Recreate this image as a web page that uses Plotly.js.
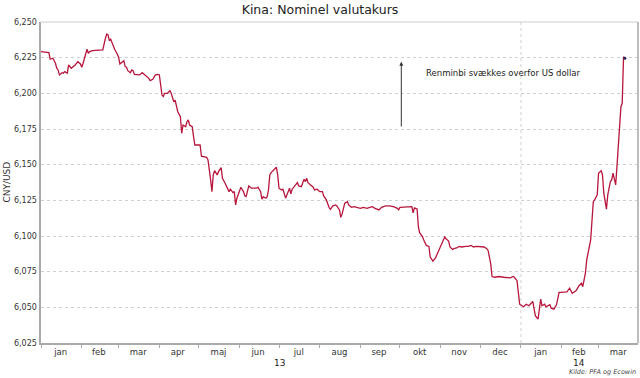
<!DOCTYPE html>
<html>
<head>
<meta charset="utf-8">
<script src="https://cdn.plot.ly/plotly-3.0.1.min.js"></script>
<style>html,body{margin:0;padding:0;background:#fff;}#chart{width:640px;height:378px;}</style>
</head>
<body>
<div id="chart"></div>
<script>
const dates = [
"2013-01-01","2013-01-07","2013-01-08","2013-01-10","2013-01-12","2013-01-13","2013-01-14","2013-01-15","2013-01-17","2013-01-18",
"2013-01-19","2013-01-21","2013-01-22","2013-01-23","2013-01-24","2013-01-27","2013-01-29","2013-01-31","2013-02-01","2013-02-02",
"2013-02-04","2013-02-05","2013-02-06","2013-02-07","2013-02-09","2013-02-17","2013-02-19","2013-02-20","2013-02-21","2013-02-22",
"2013-02-23","2013-02-24","2013-02-25","2013-02-26","2013-02-28","2013-03-01","2013-03-02","2013-03-03","2013-03-05","2013-03-06",
"2013-03-07","2013-03-08","2013-03-10","2013-03-11","2013-03-12","2013-03-13","2013-03-15","2013-03-17","2013-03-19","2013-03-21",
"2013-03-22","2013-03-24","2013-03-25","2013-03-27","2013-03-29","2013-03-31","2013-04-01","2013-04-03","2013-04-04","2013-04-05",
"2013-04-07","2013-04-08","2013-04-09","2013-04-10","2013-04-12","2013-04-13","2013-04-14","2013-04-15","2013-04-17","2013-04-18",
"2013-04-19","2013-04-21","2013-04-22","2013-04-23","2013-04-24","2013-04-26","2013-04-27","2013-04-28","2013-05-02","2013-05-03",
"2013-05-07","2013-05-08","2013-05-10","2013-05-11","2013-05-12","2013-05-13","2013-05-15","2013-05-16","2013-05-18","2013-05-19",
"2013-05-21","2013-05-23","2013-05-24","2013-05-25","2013-05-27","2013-05-28","2013-05-29","2013-05-30","2013-06-01","2013-06-02",
"2013-06-04","2013-06-05","2013-06-06","2013-06-08","2013-06-10","2013-06-11","2013-06-14","2013-06-15","2013-06-17","2013-06-18",
"2013-06-19","2013-06-21","2013-06-22","2013-06-23","2013-06-24","2013-06-25","2013-06-27","2013-06-29","2013-06-30","2013-07-01",
"2013-07-03","2013-07-04","2013-07-06","2013-07-07","2013-07-08","2013-07-09","2013-07-10","2013-07-11","2013-07-13","2013-07-15",
"2013-07-16","2013-07-18","2013-07-20","2013-07-21","2013-07-22","2013-07-23","2013-07-25","2013-07-27","2013-07-28","2013-07-30",
"2013-08-01","2013-08-03","2013-08-04","2013-08-06","2013-08-08","2013-08-09","2013-08-11","2013-08-13","2013-08-14","2013-08-16",
"2013-08-17","2013-08-18","2013-08-20","2013-08-22","2013-08-23","2013-08-25","2013-08-27","2013-08-29","2013-09-01","2013-09-03",
"2013-09-06","2013-09-08","2013-09-10","2013-09-12","2013-09-15","2013-09-17","2013-09-20","2013-09-23","2013-09-26","2013-09-29",
"2013-09-30","2013-10-01","2013-10-04","2013-10-06","2013-10-10","2013-10-11","2013-10-12","2013-10-14","2013-10-15","2013-10-16",
"2013-10-18","2013-10-19","2013-10-21","2013-10-23","2013-10-24","2013-10-26","2013-10-28","2013-10-30","2013-11-01","2013-11-02",
"2013-11-04","2013-11-05","2013-11-07","2013-11-08","2013-11-10","2013-11-11","2013-11-13","2013-11-15","2013-11-17","2013-11-20",
"2013-11-22","2013-11-24","2013-11-26","2013-11-28","2013-12-01","2013-12-04","2013-12-06","2013-12-07","2013-12-09","2013-12-10",
"2013-12-12","2013-12-15","2013-12-19","2013-12-22","2013-12-24","2013-12-26","2013-12-27","2013-12-29","2013-12-30","2013-12-31",
"2014-01-03","2014-01-05","2014-01-07","2014-01-09","2014-01-10","2014-01-11","2014-01-12","2014-01-14","2014-01-15","2014-01-16",
"2014-01-17","2014-01-19","2014-01-20","2014-01-23","2014-01-24","2014-01-26","2014-01-28","2014-01-30","2014-01-31","2014-02-03",
"2014-02-05","2014-02-07","2014-02-09","2014-02-12","2014-02-14","2014-02-16","2014-02-17","2014-02-19","2014-02-20","2014-02-23",
"2014-02-25","2014-02-26","2014-02-28","2014-03-01","2014-03-03","2014-03-04","2014-03-05","2014-03-07","2014-03-08","2014-03-10",
"2014-03-11","2014-03-12","2014-03-14","2014-03-15","2014-03-17","2014-03-18","2014-03-19","2014-03-20","2014-03-21"
];
const cnyUsd = [
6.2292,6.2285,6.2239,6.2246,6.2211,6.2176,6.2164,6.2129,6.2145,6.2141,
6.2152,6.2141,6.2199,6.2183,6.2176,6.2199,6.2222,6.2206,6.2183,6.2211,
6.2292,6.2309,6.2281,6.2292,6.2299,6.2304,6.2386,6.2416,6.2409,6.2369,
6.2379,6.2355,6.2327,6.2309,6.2276,6.2253,6.2206,6.2215,6.2229,6.2187,
6.2183,6.2159,6.2145,6.2164,6.2159,6.2133,6.2129,6.2129,6.2145,6.2129,
6.2117,6.2105,6.2089,6.2098,6.2129,6.2133,6.2129,6.1988,6.1977,6.2000,
6.2000,6.2012,6.2019,6.2000,6.1941,6.1953,6.1918,6.1871,6.1836,6.1720,
6.1778,6.1766,6.1801,6.1813,6.1778,6.1766,6.1696,6.1638,6.1638,6.1559,
6.1552,6.1533,6.1393,6.1311,6.1428,6.1458,6.1428,6.1451,6.1479,6.1405,
6.1370,6.1335,6.1311,6.1328,6.1304,6.1311,6.1218,6.1265,6.1311,6.1342,
6.1311,6.1281,6.1276,6.1351,6.1335,6.1335,6.1335,6.1342,6.1311,6.1258,
6.1276,6.1265,6.1276,6.1323,6.1428,6.1444,6.1463,6.1482,6.1428,6.1335,
6.1323,6.1328,6.1265,6.1288,6.1318,6.1335,6.1295,6.1328,6.1351,6.1374,
6.1351,6.1346,6.1398,6.1381,6.1405,6.1374,6.1358,6.1342,6.1323,6.1328,
6.1311,6.1311,6.1281,6.1253,6.1201,6.1187,6.1211,6.1218,6.1211,6.1183,
6.1131,6.1155,6.1230,6.1241,6.1218,6.1201,6.1206,6.1201,6.1194,6.1201,
6.1194,6.1201,6.1206,6.1194,6.1183,6.1201,6.1211,6.1211,6.1206,6.1194,
6.1183,6.1201,6.1201,6.1201,6.1206,6.1162,6.1197,6.1190,6.1063,6.1021,
6.0998,6.0974,6.0934,6.0927,6.0852,6.0824,6.0847,6.0888,6.0934,6.0958,
6.0993,6.0981,6.0965,6.0923,6.0906,6.0911,6.0916,6.0927,6.0923,6.0927,
6.0927,6.0934,6.0923,6.0927,6.0923,6.0923,6.0911,6.0899,6.0805,6.0716,
6.0711,6.0716,6.0711,6.0711,6.0706,6.0716,6.0711,6.0687,6.0605,6.0522,
6.0504,6.0522,6.0511,6.0527,6.0541,6.0487,6.0440,6.0417,6.0487,6.0558,
6.0511,6.0522,6.0504,6.0518,6.0494,6.0487,6.0518,6.0605,6.0605,6.0605,
6.0608,6.0634,6.0599,6.0617,6.0650,6.0669,6.0645,6.0739,6.0832,6.0972,
6.1241,6.1253,6.1288,6.1440,6.1458,6.1428,6.1300,6.1188,6.1288,6.1381,
6.1393,6.1440,6.1358,6.1486,6.1766,6.1906,6.1930,6.2257,6.2246
];
const monthMid = ["2013-01-16","2013-02-14","2013-03-16","2013-04-15","2013-05-16","2013-06-15","2013-07-16","2013-08-16","2013-09-15","2013-10-16","2013-11-15","2013-12-16","2014-01-16","2014-02-14","2014-03-16"];
const monthLabels = ["jan","feb","mar","apr","maj","jun","jul","aug","sep","okt","nov","dec","jan","feb","mar"];
const yearLabelPos = ["2013-07-01","2014-02-14"];
const yearLabels = ["13","14"];
const yTicks = [6.025,6.050,6.075,6.100,6.125,6.150,6.175,6.200,6.225,6.250];

const F = "DejaVu Sans, Verdana, sans-serif";
const traces = [
  {x: dates, y: cnyUsd, type: "scatter", mode: "lines",
   line: {color: "#b8163c", width: 1.3}, hoverinfo: "skip"},
  {x: [dates[dates.length-1]], y: [cnyUsd[cnyUsd.length-1]], type: "scatter", mode: "markers",
   marker: {color: "#1f2a55", size: 3}, hoverinfo: "skip"}
];
const annotations = [
  {x: "2013-10-02", y: 6.2222, ax: "2013-10-02", ay: 6.1757, xref: "x", yref: "y", axref: "x", ayref: "y",
   text: "", showarrow: true, arrowhead: 2, arrowsize: 0.8, arrowwidth: 1, arrowcolor: "#333"},
  {x: "2013-12-19", y: 6.2143, xref: "x", yref: "y", text: "Renminbi svækkes overfor US dollar",
   showarrow: false, font: {family: F, size: 8.5, color: "#222"}},
  {x: -0.0586, y: 0.5, xref: "paper", yref: "paper", xanchor: "center", yanchor: "middle",
   text: "CNY/USD", textangle: -90,
   showarrow: false, font: {family: F, size: 9, color: "#333"}},
  {x: 1, y: -0.090, xref: "paper", yref: "paper", xanchor: "right", yanchor: "middle",
   text: "<i>Kilde: PFA og Ecowin</i>", showarrow: false, font: {family: F, size: 6.5, color: "#444"}}
];
yearLabels.forEach((t, i) => annotations.push({
  x: yearLabelPos[i], y: -0.062, xref: "x", yref: "paper", yanchor: "middle", text: t,
  showarrow: false, font: {family: F, size: 9, color: "#222"}
}));

const layout = {
  width: 640, height: 378,
  margin: {l: 41, r: 2, t: 22, b: 35},
  paper_bgcolor: "#fff", plot_bgcolor: "#fff",
  separators: ",.",
  showlegend: false,
  title: {text: "Kina: Nominel valutakurs", x: 0.5, xanchor: "center", y: 0.975, yanchor: "middle",
          font: {family: F, size: 12.5, color: "#222"}},
  xaxis: {
    type: "date", range: ["2013-01-01", "2014-03-31"],
    tickmode: "array", tickvals: monthMid, ticktext: monthLabels, ticks: "",
    tickfont: {family: F, size: 8.5, color: "#333"},
    showgrid: false, zeroline: false,
    showline: true, linecolor: "#aaa", linewidth: 1.5, mirror: false,
    minor: {tickmode: "linear", tick0: "2013-01-01", dtick: "M1", ticks: "outside", ticklen: 3, tickcolor: "#aaa", tickwidth: 1, showgrid: false}
  },
  yaxis: {
    range: [6.025, 6.250], tickmode: "array", tickvals: yTicks, tickformat: ".3f",
    ticks: "", tickfont: {family: F, size: 8, color: "#333"},
    showgrid: true, gridcolor: "#d0d0d0", griddash: "dot", gridwidth: 1,
    zeroline: false, showline: true, linecolor: "#aaa", linewidth: 2.5
  },
  shapes: [
    {type: "line", xref: "x", yref: "paper", x0: "2014-01-01", x1: "2014-01-01", y0: 0, y1: 1,
     line: {color: "#d0d0d0", width: 1, dash: "dot"}, layer: "below"},
    {type: "line", xref: "paper", yref: "paper", x0: 0, x1: 1, y0: 1, y1: 1, line: {color: "#ccc", width: 1}},
    {type: "line", xref: "paper", yref: "paper", x0: 1, x1: 1, y0: 0, y1: 1, line: {color: "#aaa", width: 1.5}}
  ],
  annotations: annotations
};
Plotly.newPlot("chart", traces, layout, {staticPlot: true, displayModeBar: false});
</script>
</body>
</html>
